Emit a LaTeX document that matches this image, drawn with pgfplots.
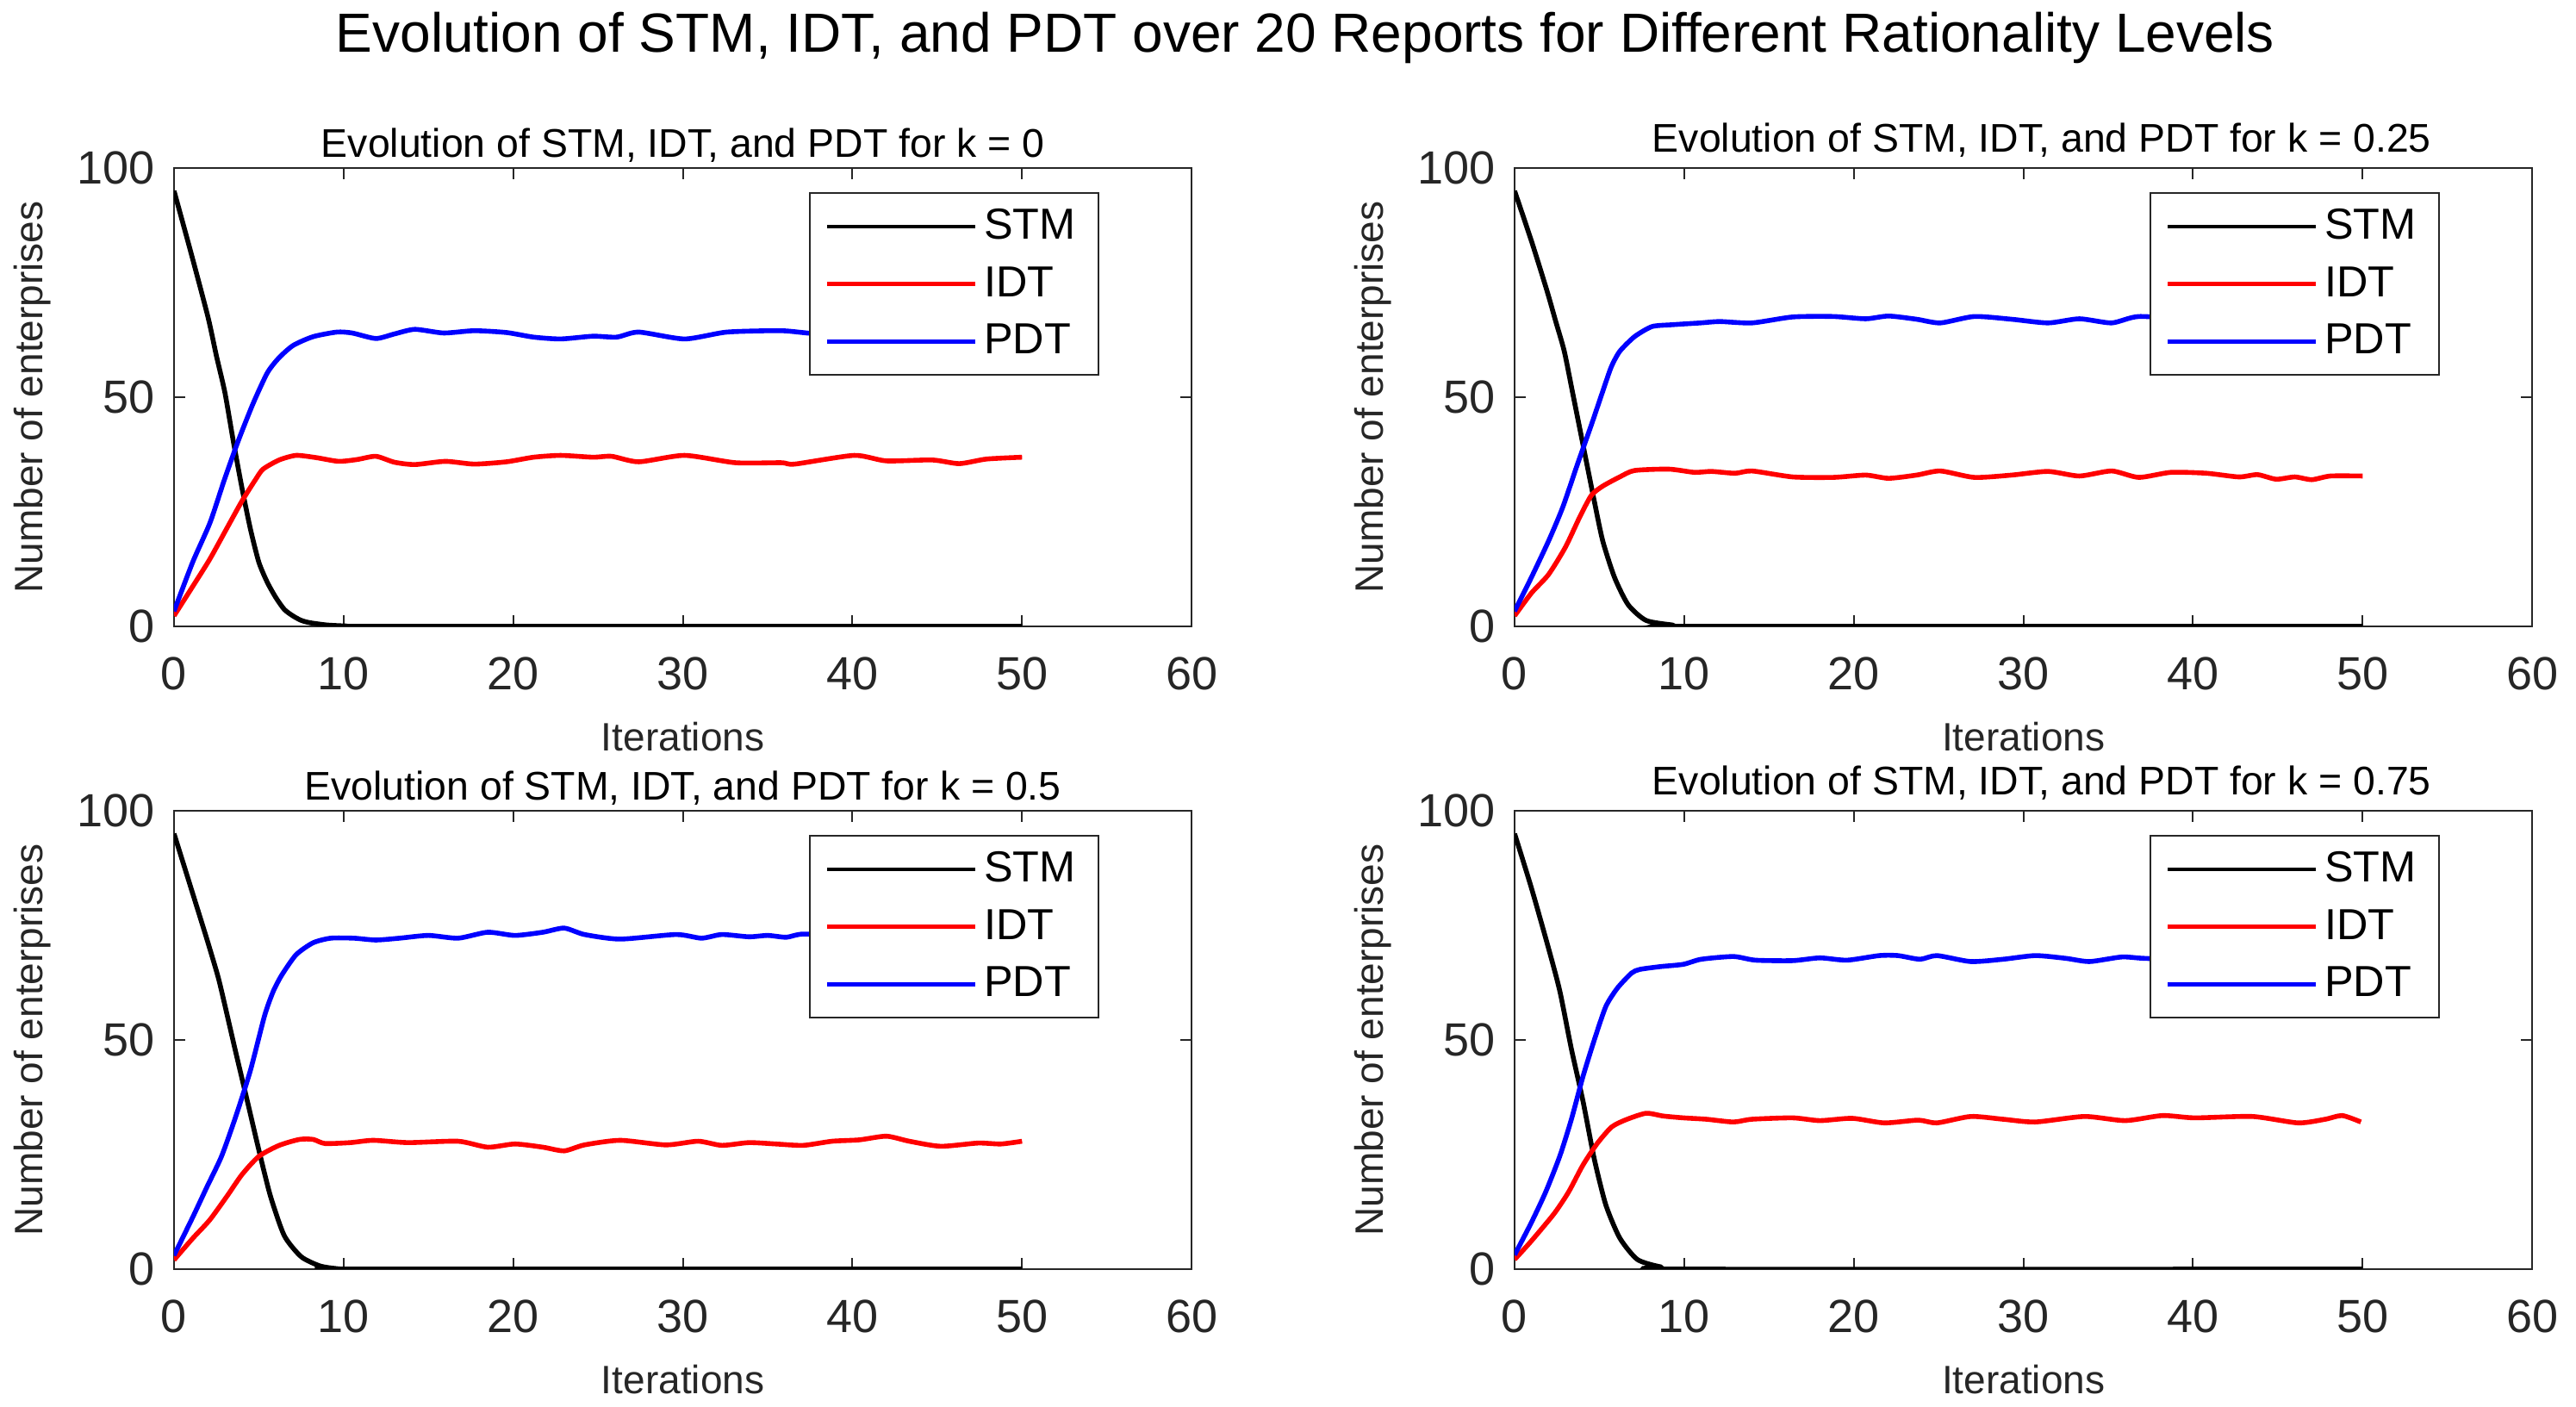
\documentclass[border=0pt]{standalone}
\usepackage{pgfplots}
\pgfplotsset{compat=1.18}
\usepackage{fontspec}
\setmainfont{Liberation Sans}
\definecolor{mgray}{RGB}{38,38,38}
\pgfplotsset{
  mystyle/.style={
    scale only axis, width=295.3pt, height=133pt,
    xmin=0, xmax=60, ymin=0, ymax=100,
    xtick={0,10,...,60}, ytick={0,50,100},
    tick align=inside, tick pos=both,
    major tick length=3.3pt,
    axis line style={draw=mgray, line width=0.5pt},
    every tick/.style={draw=mgray, line width=0.5pt},
    /pgf/number format/assume math mode=true,
    tick label style={font=\fontsize{13.5}{16}\selectfont, text=mgray},
    yticklabel style={xshift=-2pt},
    xticklabel style={yshift=-5.5pt},
    xlabel={Iterations}, ylabel={Number of enterprises},
    label style={font=\fontsize{11.5}{14}\selectfont, text=mgray},
    xlabel style={at={(axis description cs:0.5,-0.24)}, anchor=center},
    ylabel style={at={(axis description cs:-0.139,0.5)}, anchor=center},
    every axis title shift=0pt,
    title style={font=\fontsize{11.6}{14}\selectfont, at={(axis description cs:0.5,1)}, anchor=base, yshift=3pt},
    legend style={at={(0.909,0.947)}, anchor=north east, draw=mgray, line width=0.5pt,
      fill=white, font=\fontsize{12.6}{15}\selectfont, cells={anchor=west},
      row sep=2.5pt, inner xsep=4.5pt, inner ysep=2.5pt},
    legend image code/.code={\draw[#1, line width=1.1pt] (0pt,0pt) -- (43pt,0pt);},
    every axis plot/.append style={line width=1.4pt, smooth, tension=0.4},
  },
  righttitle/.style={title style={xshift=5.3pt, yshift=1.5pt}},
}
\begin{document}
\begin{tikzpicture}
\useasboundingbox (0,0) rectangle (747.5pt,408.25pt);
\node[font=\fontsize{16}{19}\selectfont, anchor=base] at (378.75pt,393pt)
  {Evolution of STM, IDT, and PDT over 20 Reports for Different Rationality Levels};

% ---------- k = 0 ----------
\begin{axis}[mystyle, at={(50.5pt,226.5pt)}, anchor=south west,
  title={Evolution of STM, IDT, and PDT for k = 0}]
\addplot[black] coordinates {(0,95) (1,81.5) (2,67.5) (2.5,59) (3,51) (3.5,40.3) (4,30.3) (4.5,21.3) (5,14) (5.5,9.6) (6,6.3) (6.5,3.7) (7,2.3) (7.5,1.3) (8,0.8) (9,0.3) (10,0.1) (11,0) (50,0)};
\addplot[red] coordinates {(0,2.3) (1.1,8.7) (2.1,14.6) (3.1,21.3) (4,27.3) (4.8,32) (5.25,34.3) (6.2,36.3) (7.2,37.3) (8.4,36.8) (9.7,36) (10.8,36.4) (11.9,37.1) (13,35.8) (14.2,35.3) (16,36) (17.7,35.4) (19.6,35.9) (21.2,36.9) (22.8,37.3) (24.7,36.9) (25.8,37.1) (27.4,35.9) (30.1,37.3) (33.1,35.7) (35.8,35.7) (36.6,35.4) (40.1,37.3) (42,36.1) (44.7,36.3) (46.3,35.5) (47.9,36.5) (50,36.9)};
\addplot[blue] coordinates {(0,3.3) (1.1,14) (2.12,22.6) (2.97,32) (3.8,40.6) (4.66,48.6) (5.5,55.3) (6.19,58.6) (7.03,61.3) (8.2,63.2) (9.6,64.2) (10.5,64) (11.9,62.8) (13,63.8) (14.2,64.8) (15.9,64) (17.7,64.5) (19.6,64.1) (21.2,63.1) (22.8,62.7) (24.7,63.3) (26.1,63.1) (27.4,64.2) (30.1,62.7) (32.6,64.2) (35.8,64.5) (37.7,63.9) (40,64.1) (43,64.4) (46,63.8) (50,64)};
\legend{STM,IDT,PDT}
\end{axis}

% ---------- k = 0.25 ----------
\begin{axis}[mystyle, righttitle, at={(439.5pt,226.5pt)}, anchor=south west,
  title={Evolution of STM, IDT, and PDT for k = 0.25}]
\addplot[black] coordinates {(0,95) (1,84) (1.91,73.2) (2.42,66.6) (2.93,60) (3.43,50.8) (4.1,38.4) (4.7,27.3) (5.2,18.6) (5.9,10.6) (6.7,4.7) (7.75,1.3) (9.3,0.3) (10.5,0) (50,0)};
\addplot[red] coordinates {(0,2.3) (1,7.3) (2,11.3) (3,17.3) (3.86,24) (4.53,28.6) (5.2,30.6) (6.2,32.6) (7.07,34) (9.1,34.3) (10.6,33.6) (11.6,33.8) (13,33.4) (14,33.9) (16.4,32.6) (18.8,32.5) (20.7,33) (22.05,32.3) (23.7,33) (25.1,33.9) (27.1,32.5) (29.3,33) (31.45,33.8) (33.3,32.8) (35.2,33.9) (36.8,32.5) (38.7,33.6) (40.8,33.4) (42.7,32.6) (43.8,33.1) (44.9,32.1) (46,32.6) (47,32) (48.1,32.8) (50,32.8)};
\addplot[blue] coordinates {(0,3.3) (0.98,10.6) (2,18.6) (2.84,26) (3.7,35.3) (4.53,44) (5.2,51.3) (5.7,56.6) (6.2,60) (7.07,63.2) (8.1,65.4) (9.27,65.8) (10.96,66.2) (12.1,66.5) (14,66.2) (16.4,67.5) (18.8,67.6) (20.7,67.1) (22.05,67.7) (23.7,67) (25.1,66.2) (27.1,67.6) (29.3,67) (31.45,66.2) (33.3,67.1) (35.2,66.2) (36.8,67.6) (40,67) (44,67.3) (47,66.8) (50,67)};
\legend{STM,IDT,PDT}
\end{axis}

% ---------- k = 0.5 ----------
\begin{axis}[mystyle, at={(50.5pt,40pt)}, anchor=south west,
  title={Evolution of STM, IDT, and PDT for k = 0.5}]
\addplot[black] coordinates {(0,95) (1.61,75.9) (2.1,70) (2.63,63.3) (3.14,55.3) (3.64,47.3) (4.32,36.7) (5,26) (5.68,16) (6.5,7.3) (7.5,2.7) (8.6,0.7) (9.6,0.1) (10.5,0) (50,0)};
\addplot[red] coordinates {(0,2) (1.1,6.7) (2.1,10.7) (3.14,16) (4,20.6) (5,24.6) (6.2,27) (7.4,28.3) (8.2,28.3) (8.9,27.4) (10.4,27.6) (11.75,28.1) (13.8,27.6) (16.75,27.9) (18.5,26.6) (20.1,27.3) (21.75,26.6) (23,25.8) (24.2,27.1) (26.3,28.1) (29,27.1) (30.9,27.9) (32.3,27) (33.9,27.6) (35.5,27.3) (37.1,27) (38.8,27.9) (40.4,28.2) (42,29) (43.35,27.9) (45.2,26.8) (47.4,27.5) (48.75,27.3) (50,27.9)};
\addplot[blue] coordinates {(0,3) (1.1,11.3) (1.95,18) (2.8,24.6) (3.64,33.3) (4.5,43.3) (5.34,55.3) (5.85,60.6) (6.36,64.2) (7.2,68.6) (8.2,71.2) (9.24,72.2) (10.6,72.2) (11.9,71.8) (13.3,72.2) (15,72.8) (16.75,72.2) (18.5,73.5) (20.1,72.8) (21.75,73.5) (23,74.4) (24.2,73) (26.3,72) (29.6,73) (31.1,72.2) (32.3,73) (33.9,72.5) (35,72.8) (36.1,72.4) (37.1,73.1) (40,72.8) (44,73) (47,72.6) (50,72.8)};
\legend{STM,IDT,PDT}
\end{axis}

% ---------- k = 0.75 ----------
\begin{axis}[mystyle, righttitle, at={(439.5pt,40pt)}, anchor=south west,
  title={Evolution of STM, IDT, and PDT for k = 0.75}]
\addplot[black] coordinates {(0,95) (0.98,83.3) (2,70) (2.67,60.6) (3.35,48) (4.03,36.7) (4.7,24) (5.38,14) (6.2,6.8) (7.24,2.1) (8.6,0.5) (9.95,0) (50,0)};
\addplot[red] coordinates {(0,2.1) (0.98,6.1) (2.33,12.1) (3.18,16.8) (4.03,22.7) (4.87,27.4) (5.72,31) (6.57,32.6) (7.75,34) (8.76,33.4) (9.95,33) (11.3,32.7) (12.9,32.1) (14,32.7) (16.4,33) (18,32.4) (19.9,32.9) (21.8,31.9) (23.8,32.5) (24.9,31.9) (26.9,33.3) (28.8,32.7) (30.7,32.1) (33.6,33.3) (36,32.4) (38.2,33.5) (40.1,33) (43.5,33.3) (46.2,31.9) (47.8,32.7) (48.8,33.5) (49.9,32.1)};
\addplot[blue] coordinates {(0,3.1) (0.98,10.1) (1.83,16.8) (2.67,24.7) (3.35,32.7) (4.03,42) (4.7,50) (5.38,57.3) (6.06,61.3) (6.9,64.6) (7.4,65.4) (8.6,66) (9.95,66.5) (11,67.6) (12.9,68.2) (14.2,67.4) (16.4,67.3) (18,67.9) (19.6,67.4) (21.5,68.4) (22.6,68.4) (23.9,67.6) (24.9,68.4) (26.9,67.1) (28.8,67.6) (30.7,68.4) (32.5,67.8) (33.9,67.1) (35.8,68.1) (37.1,67.8) (40,67.5) (44,67.8) (47,67.4) (50,67.6)};
\legend{STM,IDT,PDT}
\end{axis}
\end{tikzpicture}
\end{document}
